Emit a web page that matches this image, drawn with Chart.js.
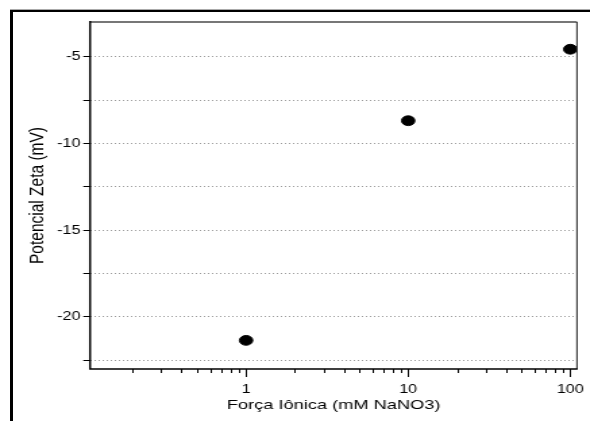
<!DOCTYPE html>
<html>
<head>
<meta charset="utf-8">
<script src="https://cdn.jsdelivr.net/npm/chart.js@4/dist/chart.umd.min.js"></script>
<style>
  html, body { margin: 0; padding: 0; background: #fff; width: 590px; height: 421px; overflow: hidden; }
  #frame { position: absolute; left: 10px; top: 10px; width: 700px; height: 700px;
           border-left: 3px solid #000; border-top: 2px solid #000; box-shadow: 0 -1px 0 #aaa; }
  #wrap { position: absolute; left: 0; top: 0; width: 437px; height: 421px;
          transform: scaleX(1.35); transform-origin: 0 0; }
</style>
</head>
<body>
<div id="frame"></div>
<div id="wrap"><canvas id="c"></canvas></div>
<script>
// ---- data ----
const ionicStrength = [1, 10, 100];          // mM NaNO3
const zetaPotential = [-21.35, -8.69, -4.57]; // mV
const xMajorTicks = [1, 10, 100];
const xMinorTicks = [0.2, 0.3, 0.4, 0.5, 0.6, 0.7, 0.8, 0.9,
                     2, 3, 4, 5, 6, 7, 8, 9,
                     20, 30, 40, 50, 60, 70, 80, 90];
const yTicks = [-22.5, -20, -17.5, -15, -12.5, -10, -7.5, -5];
const yLabelled = [-20, -15, -10, -5];
const xTitle = 'Força Iônica (mM NaNO3)';
const yTitle = 'Potencial Zeta (mV)';

const FONT = "'Liberation Sans', Arial, sans-serif";

const framePlugin = {
  id: 'framePlugin',
  afterDraw(chart) {
    const ctx = chart.ctx;
    const a = chart.chartArea;
    const xs = chart.scales.x;
    ctx.save();
    // minor ticks on x axis
    ctx.strokeStyle = '#000';
    ctx.lineWidth = 1;
    ctx.beginPath();
    xMinorTicks.forEach(v => {
      const px = Math.round(xs.getPixelForValue(v)) + 0.5;
      ctx.moveTo(px, a.bottom);
      ctx.lineTo(px, a.bottom + 4);
    });
    ctx.stroke();
    // frame: top (gray) & right
    ctx.strokeStyle = '#777';
    ctx.lineWidth = 2;
    ctx.beginPath();
    ctx.moveTo(a.left, a.top);
    ctx.lineTo(a.right, a.top);
    ctx.stroke();
    ctx.strokeStyle = '#333';
    ctx.lineWidth = 1.1;
    ctx.beginPath();
    ctx.moveTo(a.right, a.top);
    ctx.lineTo(a.right, a.bottom);
    ctx.stroke();
    // left & bottom (black)
    ctx.strokeStyle = '#000';
    ctx.lineWidth = 1.5;
    ctx.beginPath();
    ctx.moveTo(a.left, a.top - 1);
    ctx.lineTo(a.left, a.bottom);
    ctx.lineTo(a.right + 0.5, a.bottom);
    ctx.stroke();
    ctx.restore();
  }
};

new Chart(document.getElementById('c'), {
  type: 'scatter',
  data: {
    datasets: [{
      data: ionicStrength.map((x, i) => ({ x: x, y: zetaPotential[i] })),
      backgroundColor: '#000',
      borderColor: '#000',
      pointRadius: 4.9,
      pointHoverRadius: 4.9
    }]
  },
  options: {
    responsive: true,
    maintainAspectRatio: false,
    animation: false,
    events: [],
    layout: { padding: { left: 0, right: 9.6, top: 22, bottom: 0 } },
    plugins: { legend: { display: false }, tooltip: { enabled: false } },
    scales: {
      x: {
        type: 'logarithmic',
        min: 0.109,
        max: 110,
        afterBuildTicks(scale) { scale.ticks = xMajorTicks.map(v => ({ value: v })); },
        afterFit(scale) { scale.height = 52; scale.paddingLeft = 0; scale.paddingRight = 0; },
        grid: { display: true, drawOnChartArea: false, drawTicks: true,
                tickLength: 8, tickColor: '#000', tickWidth: 1 },
        border: { display: false },
        ticks: { color: '#000', font: { family: FONT, size: 12 }, padding: 5,
                 maxRotation: 0, autoSkip: false,
                 callback: (v) => String(v) },
        title: { display: true, text: xTitle, color: '#000',
                 font: { family: FONT, size: 13.5 }, padding: { top: 0, bottom: 8 } }
      },
      y: {
        type: 'linear',
        min: -23,
        max: -3,
        afterBuildTicks(scale) { scale.ticks = yTicks.map(v => ({ value: v })); },
        afterFit(scale) { scale.width = 66.7; scale.paddingTop = 0; scale.paddingBottom = 0; },
        grid: { display: true, drawOnChartArea: true, drawTicks: true,
                color: '#9a9a9a', lineWidth: 1,
                tickLength: 5, tickColor: '#000', tickWidth: 1, tickBorderDash: [] },
        border: { display: false, dash: [1, 2] },
        ticks: { color: '#000', font: { family: FONT, size: 12 }, padding: 2,
                 autoSkip: false,
                 callback: (v) => yLabelled.includes(v) ? String(v) : '' },
        title: { display: true, text: yTitle, color: '#000',
                 font: { family: FONT, size: 15.5 }, padding: { top: 18.7, bottom: 0 } }
      }
    }
  },
  plugins: [framePlugin]
});
</script>
</body>
</html>
